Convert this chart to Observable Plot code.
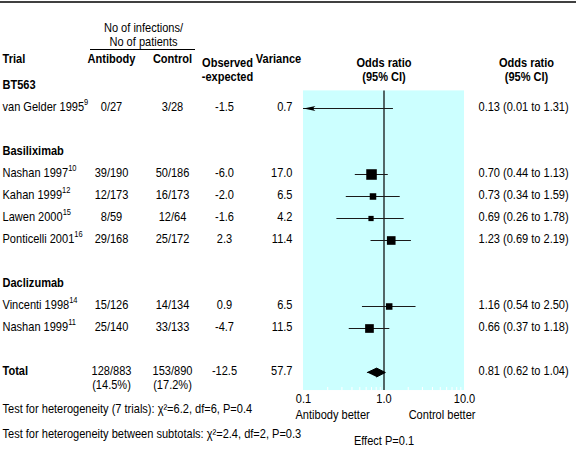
<!DOCTYPE html>
<html><head><meta charset="utf-8">
<script src="https://cdn.jsdelivr.net/npm/d3@7"></script>
<script src="https://cdn.jsdelivr.net/npm/@observablehq/plot@0.6"></script>
<style>
html,body{margin:0;padding:0;background:#fff;}
#chart svg{display:block;}
</style>
</head><body><div id="chart"></div>
<script>
// ---- data ----
const groupNames = ["BT563", "Basiliximab", "Daclizumab"];
const trialNames = ["van Gelder 1995", "Nashan 1997", "Kahan 1999", "Lawen 2000", "Ponticelli 2001", "Vincenti 1998", "Nashan 1999"];
const trialRefs = ["9", "10", "12", "15", "16", "14", "11"];
const trialGroup = ["BT563", "Basiliximab", "Basiliximab", "Basiliximab", "Basiliximab", "Daclizumab", "Daclizumab"];
const antibodyCounts = ["0/27", "39/190", "12/173", "8/59", "29/168", "15/126", "25/140"];
const controlCounts = ["3/28", "50/186", "16/173", "12/64", "25/172", "14/134", "33/133"];
const observedExpected = [-1.5, -6.0, -2.0, -1.6, 2.3, 0.9, -4.7];
const variances = [0.7, 17.0, 6.5, 4.2, 11.4, 6.5, 11.5];
const oddsRatios = [0.13, 0.70, 0.73, 0.69, 1.23, 1.16, 0.66];
const ciLow = [0.01, 0.44, 0.34, 0.26, 0.69, 0.54, 0.37];
const ciHigh = [1.31, 1.13, 1.59, 1.78, 2.19, 2.50, 1.18];

const totalLabel = "Total";
const totalAntibody = ["128/883", "(14.5%)"];
const totalControl = ["153/890", "(17.2%)"];
const totalOE = -12.5;
const totalVariance = 57.7;
const totalOR = 0.81, totalLow = 0.62, totalHigh = 1.04;

const headerInfections = "No of infections/\nNo of patients";
const headerTrial = "Trial", headerAntibody = "Antibody", headerControl = "Control";
const headerOE = "Observed\n-expected", headerVariance = "Variance";
const headerOR = "Odds ratio\n(95% CI)";
const axisTicks = [0.1, 1, 10];
const axisTickLabels = ["0.1", "1.0", "10.0"];
const minorTicks = [0.2, 0.3, 0.4, 0.5, 0.6, 0.7, 0.8, 0.9, 2, 3, 4, 5, 6, 7, 8, 9];
const axisLeftLabel = "Antibody better";
const axisRightLabel = "Control better";
const footer1 = "Test for heterogeneity (7 trials): χ²=6.2, df=6, P=0.4";
const footer2 = "Test for heterogeneity between subtotals: χ²=2.4, df=2, P=0.3";
const footerEffect = "Effect P=0.1";

// ---- layout ----
const FONT = "'Liberation Sans', Arimo, Arial, sans-serif";
const FS = 13;
const SX = 0.85; // horizontal condensing of the type
const TDY = 2;   // small downward nudge of text baselines
const ROW0 = 86, STEP = 22;
const Y = px => (px - ROW0) / STEP;
const col = {trial: 2, antibody: 111, control: 172, oe: 224, variance: 292, varianceHead: 278, orText: 478, infections: 143, orHeader: 526};

// rows
let k = 0;
const groupRow = [], trialRow = [];
groupNames.forEach(g => {
  groupRow.push(k); k++;
  trialGroup.forEach((tg, i) => { if (tg === g) { trialRow[i] = k; k++; } });
  k++;
});
const totalRow = k;

const trials = trialNames.map((name, i) => ({
  name, ref: trialRefs[i], row: trialRow[i], ab: antibodyCounts[i], ct: controlCounts[i],
  oe: observedExpected[i].toFixed(1), v: variances[i], vText: variances[i].toFixed(1),
  or: oddsRatios[i], lo: ciLow[i], hi: ciHigh[i],
  orText: `${oddsRatios[i].toFixed(2)} (${ciLow[i].toFixed(2)} to ${ciHigh[i].toFixed(2)})`
}));
const groups = groupNames.map((g, i) => ({name: g, row: groupRow[i]}));
const panelTop = 0.2, panelBottom = totalRow + 0.82;
const diamond = [
  {x: totalLow, y: totalRow}, {x: totalOR, y: totalRow - 0.2},
  {x: totalHigh, y: totalRow}, {x: totalOR, y: totalRow + 0.2}
];

const arrowLeft = {
  draw(ctx) {
    ctx.moveTo(0, 0); ctx.lineTo(12, -2.6); ctx.lineTo(9, 0); ctx.lineTo(12, 2.6); ctx.closePath();
  }
};

const txt = (data, opts) => Plot.text(data, {fontSize: FS, fill: "black", frameAnchor: "left", lineHeight: 14 / FS, dy: TDY, ...opts});
const one = (label, y, dx, anchor, extra = {}) => txt([label], {y: () => y, dx, textAnchor: anchor, ...extra});

const chart = Plot.plot({
  width: 576, height: 450,
  marginTop: 0, marginRight: 0, marginBottom: 0, marginLeft: 0,
  style: {fontFamily: FONT, background: "white", color: "black"},
  x: {type: "log", domain: [0.1, 10], range: [303, 464], axis: null},
  y: {domain: [Y(0), Y(450)], range: [0, 450], axis: null},
  r: {type: "sqrt", domain: [0, 17], range: [0, 5.95]},
  marks: [
    Plot.ruleY([Y(1.5)], {stroke: "black", strokeWidth: 1.6}),
    Plot.ruleY([Y(49)], {stroke: "black", strokeWidth: 1, insetLeft: 90, insetRight: 576 - 195}),
    Plot.rect([0], {x1: axisTicks[0], x2: axisTicks[2], y1: () => panelTop, y2: () => panelBottom, fill: "#ccffff"}),
    Plot.ruleX(minorTicks, {x: d => d, y1: () => panelBottom, y2: () => panelBottom - 0.14, stroke: "white"}),
    Plot.ruleX([1], {y1: () => panelTop, y2: () => panelBottom, stroke: "black", strokeWidth: 1.2}),
    Plot.ruleY(trials, {y: "row", x1: d => Math.max(d.lo, 0.1), x2: d => Math.min(d.hi, 10), stroke: "#1a1a1a", strokeWidth: 1.2}),
    Plot.dot(trials.filter(d => d.lo < 0.1), {x: () => 0.1, y: "row", symbol: arrowLeft, fill: "black", r: 4}),
    Plot.dot(trials, {x: "or", y: "row", r: "v", symbol: "square", fill: "black"}),
    Plot.line(diamond, {x: "x", y: "y", fill: "black", stroke: "black", strokeWidth: 1}),

    // headers
    one(headerInfections, Y(32), col.infections, "middle"),
    one(headerTrial, Y(60), col.trial, "start", {fontWeight: "bold"}),
    one(headerAntibody, Y(60), col.antibody, "middle", {fontWeight: "bold"}),
    one(headerControl, Y(60), col.control, "middle", {fontWeight: "bold"}),
    one(headerOE, Y(67), col.oe + 3, "middle", {fontWeight: "bold"}),
    one(headerVariance, Y(60), col.varianceHead, "middle", {fontWeight: "bold"}),
    txt([headerOR], {x: () => 1, y: () => Y(67), fontWeight: "bold", textAnchor: "middle", frameAnchor: undefined}),
    one(headerOR, Y(67), col.orHeader, "middle", {fontWeight: "bold"}),

    // groups and trials
    txt(groups, {y: "row", text: "name", dx: col.trial, textAnchor: "start", fontWeight: "bold"}),
    txt(trials, {y: "row", text: "name", dx: col.trial, textAnchor: "start"}),
    txt(trials, {y: "row", text: "ab", dx: col.antibody, textAnchor: "middle"}),
    txt(trials, {y: "row", text: "ct", dx: col.control, textAnchor: "middle"}),
    txt(trials, {y: "row", text: "oe", dx: col.oe, textAnchor: "middle"}),
    txt(trials, {y: "row", text: "vText", dx: col.variance, textAnchor: "end"}),
    txt(trials, {y: "row", text: "orText", dx: col.orText, textAnchor: "start"}),

    // total
    one(totalLabel, totalRow, col.trial, "start", {fontWeight: "bold"}),
    txt(totalAntibody, {y: (d, i) => totalRow + i * 14 / STEP, dx: col.antibody, textAnchor: "middle"}),
    txt(totalControl, {y: (d, i) => totalRow + i * 14 / STEP, dx: col.control, textAnchor: "middle"}),
    one(totalOE.toFixed(1), totalRow, col.oe, "middle"),
    one(totalVariance.toFixed(1), totalRow, col.variance, "end"),
    one(`${totalOR.toFixed(2)} (${totalLow.toFixed(2)} to ${totalHigh.toFixed(2)})`, totalRow, col.orText, "start"),

    // axis labels
    txt(axisTicks, {x: d => d, y: () => Y(400), text: (d, i) => axisTickLabels[i], textAnchor: "middle", frameAnchor: undefined}),
    txt([axisLeftLabel], {x: () => 0.1, y: () => Y(416), dx: -8, textAnchor: "start", frameAnchor: undefined}),
    txt([axisRightLabel], {x: () => 10, y: () => Y(416), dx: 11, textAnchor: "end", frameAnchor: undefined}),

    // footer
    one(footer1, Y(410), col.trial, "start"),
    one(footer2, Y(435), col.trial, "start"),
    txt([footerEffect], {x: () => 1, y: () => Y(442), textAnchor: "middle", frameAnchor: undefined})
  ]
});

// superscript reference numbers after trial names; condensed type
d3.select(chart).selectAll("text").each(function () {
  const i = trialNames.indexOf(this.textContent);
  if (i >= 0) {
    d3.select(this).append("tspan").attr("dy", "-0.6em").attr("font-size", "0.68em").text(trialRefs[i]);
  }
  const t = this.getAttribute("transform") || "";
  const x = this.getAttribute("x"), y = this.getAttribute("y");
  let tr = t;
  if (x !== null || y !== null) {
    tr += ` translate(${+x || 0},${+y || 0})`;
    this.removeAttribute("x"); this.removeAttribute("y");
  }
  this.setAttribute("transform", `${tr} scale(${SX},1)`);
});

document.getElementById("chart").appendChild(chart);
</script>
</body></html>
